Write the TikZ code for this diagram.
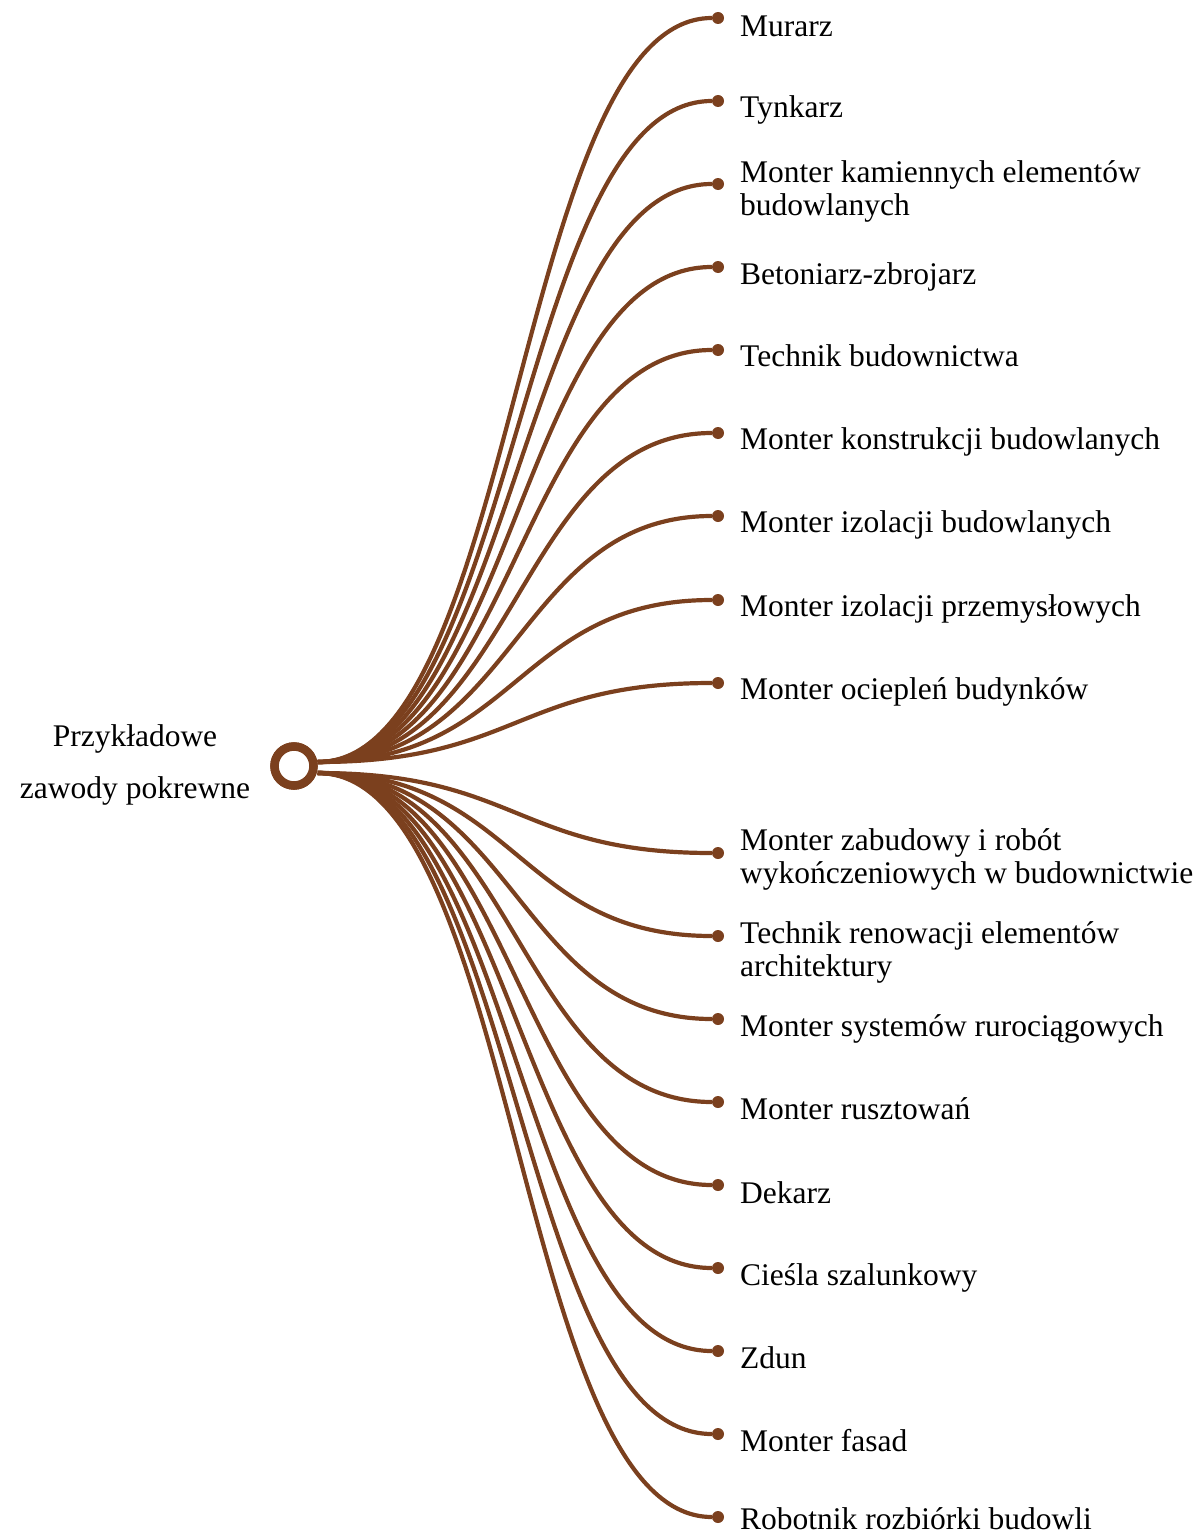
\documentclass[tikz,border=0pt]{standalone}
\usepackage{fontspec}
\setmainfont{Liberation Serif}
\definecolor{brn}{RGB}{123,64,30}
\begin{document}
\begin{tikzpicture}[x=1pt,y=-1pt,
  link/.style={draw=brn, line width=4.2pt},
  dotnode/.style={circle, fill=brn, inner sep=0pt, minimum size=12pt},
  hubnode/.style={circle, draw=brn, fill=white, line width=8.5pt, inner sep=0pt, minimum size=39pt},
  lbl/.style={anchor=base west, inner sep=0pt, font=\fontsize{31.5}{33}\selectfont}]
\useasboundingbox (0,0) rectangle (1201,1536);

\node[hubnode] (hub) at (294,766) {};
\coordinate (hu) at ([yshift=4pt]hub.east);
\coordinate (hl) at ([yshift=-7pt]hub.east);
\coordinate (mx) at (517,0);

\foreach \y/\n in {18/1,101/2,184/3,267/4,350/5,433/6,516/7,600/8,683/9}{
  \node[dotnode] (d\n) at (718,\y) {};
  \draw[link] (hu) .. controls (hu -| mx) and (d\n -| mx) .. (d\n);
}
\foreach \y/\n in {853/10,936/11,1019/12,1102/13,1185/14,1268/15,1351/16,1434/17,1517/18}{
  \node[dotnode] (d\n) at (718,\y) {};
  \draw[link] (hl) .. controls (hl -| mx) and (d\n -| mx) .. (d\n);
}
\node[hubnode] (hubtop) at (hub) {};

\node[anchor=base, inner sep=0pt, font=\fontsize{31.5}{52}\selectfont] (root) at (135,746)
  {\begin{tabular}[t]{@{}c@{}}Przykładowe\\zawody pokrewne\end{tabular}};

\node[lbl] (t1) at (740,37) {Murarz};
\node[lbl] (t2) at (740,118) {Tynkarz};
\node[lbl] (t3) at (740,182) {\begin{tabular}[t]{@{}l@{}}Monter kamiennych elementów\\budowlanych\end{tabular}};
\node[lbl] (t4) at (740,284) {Betoniarz-zbrojarz};
\node[lbl] (t5) at (740,366) {Technik budownictwa};
\node[lbl] (t6) at (740,449) {Monter konstrukcji budowlanych};
\node[lbl] (t7) at (740,532) {Monter izolacji budowlanych};
\node[lbl] (t8) at (740,616) {Monter izolacji przemysłowych};
\node[lbl] (t9) at (740,699) {Monter ociepleń budynków};
\node[lbl] (t10) at (740,850) {\begin{tabular}[t]{@{}l@{}}Monter zabudowy i robót\\wykończeniowych w budownictwie\end{tabular}};
\node[lbl] (t11) at (740,943) {\begin{tabular}[t]{@{}l@{}}Technik renowacji elementów\\architektury\end{tabular}};
\node[lbl] (t12) at (740,1036) {Monter systemów rurociągowych};
\node[lbl] (t13) at (740,1119) {Monter rusztowań};
\node[lbl] (t14) at (740,1203) {Dekarz};
\node[lbl] (t15) at (740,1285) {Cieśla szalunkowy};
\node[lbl] (t16) at (740,1368) {Zdun};
\node[lbl] (t17) at (740,1451) {Monter fasad};
\node[lbl] (t18) at (740,1529) {Robotnik rozbiórki budowli};
\end{tikzpicture}
\end{document}
